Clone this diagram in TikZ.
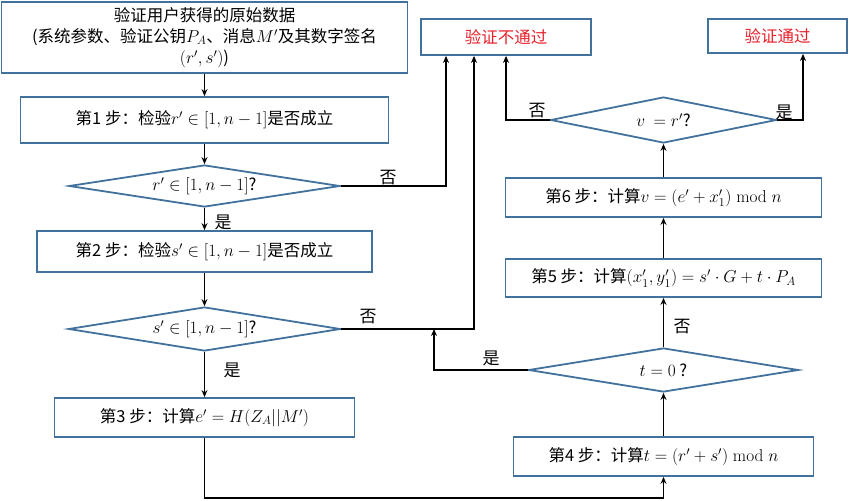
\documentclass[tikz,border=0pt]{standalone}
\usepackage[no-math]{fontspec}
\setmainfont{Noto Sans CJK SC}
\DeclareMathSizes{16.5}{18}{13}{10}
\usetikzlibrary{arrows.meta,shapes.geometric}
\definecolor{boxblue}{HTML}{41719C}
\definecolor{passred}{HTML}{E8202A}

\begin{document}
\begin{tikzpicture}[x=1pt, y=-1pt, >={Stealth[length=7pt,width=6pt]},
    box/.style={draw=boxblue, line width=1.8pt, inner sep=0pt, font=\fontsize{16.5}{21}\selectfont},
    ask/.style={diamond, aspect=6.5, draw=boxblue, line width=1.8pt, inner sep=0pt, font=\fontsize{16.5}{21}\selectfont},
    res/.style={box, text=passred},
    word/.style={font=\fontsize{17}{20}\selectfont},
    line/.style={->, line width=1.4pt}]
\useasboundingbox (0,0) rectangle (850,500);

\node (src) at (204.5,37.5)[box, minimum width=406, minimum height=71, align=center]{验证用户获得的原始数据\\(系统参数、验证公钥$P_A$、消息$M'$及其数字签名\\$(r',s')$)};
\node (s1) at (204.5,120)[box, minimum width=368, minimum height=46]{第1 步：检验$r'\in[1,n-1]$是否成立};
\node (d1) at (204.5,186)[ask, minimum width=271, minimum height=42]{$r'\in[1,n-1]$?};
\node (s2) at (204.5,251.5)[box, minimum width=335, minimum height=41]{第2 步：检验$s'\in[1,n-1]$是否成立};
\node (d2) at (204.5,329)[ask, minimum width=272, minimum height=44]{$s'\in[1,n-1]$?};
\node (s3) at (204.5,417.5)[box, minimum width=300, minimum height=39]{第3 步：计算$e'=H(Z_A||M')$};

\node (s4) at (663.5,456.5)[box, minimum width=300, minimum height=39]{第4 步：计算$t=(r'+s')\bmod n$};
\node (dt) at (663.5,370)[ask, minimum width=270, minimum height=44]{$t=0$ ?};
\node (s5) at (663.5,278)[box, minimum width=316, minimum height=38]{第5 步：计算$(x_1',y_1')=s'\cdot G+t\cdot P_A$};
\node (s6) at (663.5,197.5)[box, minimum width=316, minimum height=39]{第6 步：计算$v=(e'+x_1')\bmod n$};
\node (dv) at (663.5,120)[ask, minimum width=226, minimum height=46]{$v\ =r'$?};

\node (fail) at (506,37)[res, minimum width=170, minimum height=36]{验证不通过};
\node (pass) at (777.5,36)[res, minimum width=139, minimum height=34]{验证通过};

% left column
\draw[line](src)--(s1);
\draw[line](s1)--(d1);
\draw[line](d1)--(s2);
\draw[line](s2)--(d2);
\draw[line](d2)--(s3);
\draw[line](s3.south)--++(0,60)-|(s4.south);

% right column
\draw[line](s4)--(dt);
\draw[line](dt)--(s5);
\draw[line](s5)--(s6);
\draw[line](s6)--(dv);

% results
\draw[line](d1.east)-|([xshift=-60pt]fail.south);
\draw[line](d2.east)-|([xshift=-32pt]fail.south);
\coordinate (join) at (434,329);
\draw[line](dt.west)-|(join);
\draw[line](dv.west)-|(fail.south);
\draw[line](dv.east)-|([xshift=25.5pt]pass.south);

\node (no1) at (388,178)[word]{否};
\node (yes1) at (223,222)[word]{是};
\node (no2) at (368,317)[word]{否};
\node (yes2) at (232,370)[word]{是};
\node (yes3) at (491,358)[word]{是};
\node (no3) at (682,327)[word]{否};
\node (no4) at (537,111)[word]{否};
\node (yes4) at (784,112)[word]{是};

\end{tikzpicture}
\end{document}
